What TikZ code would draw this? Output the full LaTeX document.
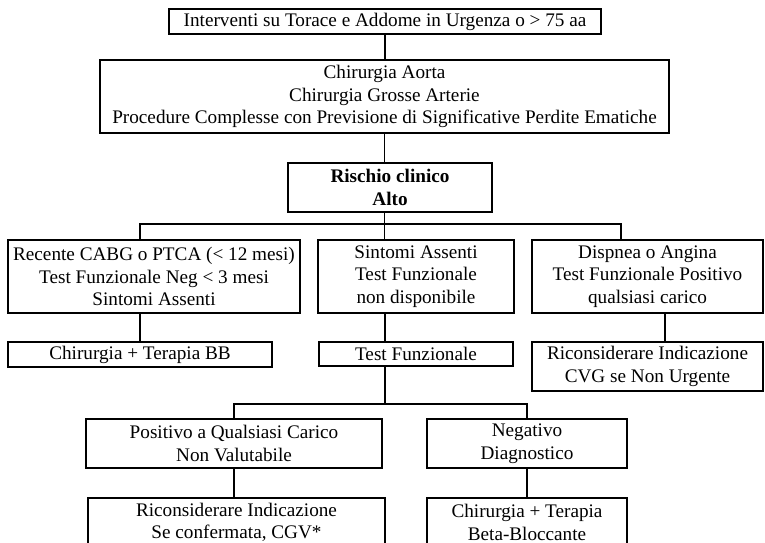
\documentclass[tikz,border=0pt]{standalone}
\usepackage{fontspec}
\setmainfont{Liberation Serif}

\begin{document}
\begin{tikzpicture}[x=0.5pt,y=-0.5pt,line width=0.6pt,
    font=\fontsize{9.6}{11.25}\selectfont,
    cbox/.style n args={2}{draw,align=center,inner sep=0pt,
      minimum width=#1*0.5pt,minimum height=#2*0.5pt}]
    \useasboundingbox (0,0) rectangle (765,542);
    \clip (0,0) rectangle (765,542);

    \node[cbox={432}{25}] (top) at (385,21.5) {Interventi su Torace e Addome in Urgenza o > 75 aa};
    \node[cbox={569}{73}] (chir) at (384.5,96.5) {Chirurgia Aorta\\Chirurgia Grosse Arterie\\Procedure Complesse con Previsione di Significative Perdite Ematiche};
    \node[cbox={204}{49},font=\fontsize{9.6}{11.25}\selectfont\bfseries] (rischio) at (390,187.5) {Rischio clinico\\Alto};

    \node[cbox={292}{73}] (recente) at (154,276.5) {Recente CABG o PTCA (< 12 mesi)\\Test Funzionale Neg < 3 mesi\\Sintomi Assenti};
    \node[cbox={196}{73}] (sintomi) at (416,276.5) {Sintomi Assenti\\Test Funzionale\\non disponibile};
    \node[cbox={231}{73}] (dispnea) at (647.5,276.5) {Dispnea o Angina\\Test Funzionale Positivo\\qualsiasi carico};

    \node[cbox={264}{25}] (terbb) at (140,354.5) {Chirurgia + Terapia BB};
    \node[cbox={194}{24}] (testf) at (416,354) {Test Funzionale};
    \node[cbox={231}{49}] (ricons) at (647.5,366.5) {Riconsiderare Indicazione\\CVG se Non Urgente};

    \node[cbox={296}{49}] (positivo) at (234,443.5) {Positivo a Qualsiasi Carico\\Non Valutabile};
    \node[cbox={200}{49}] (negativo) at (527,443.5) {Negativo\\Diagnostico};
    \node[cbox={297}{49}] (riconsb) at (236.5,522.5) {Riconsiderare Indicazione\\Se confermata, CGV*};
    \node[cbox={200}{49}] (betab) at (527,522.5) {Chirurgia + Terapia\\Beta-Bloccante};

    \coordinate (busl) at (140,224);
    \coordinate (busr) at (621,224);
    \coordinate (busb) at (385,404);
    \coordinate (rdrop) at (665,0);

    \draw (top.south) -- (top.south |- chir.north);
    \draw (chir.south) -- (chir.south |- rischio.north);
    \draw (chir.south |- rischio.south) -- (chir.south |- sintomi.north);
    \draw (busl |- recente.north) -- (busl) -- (busr) -- (busr |- dispnea.north);

    \draw (terbb.north |- recente.south) -- (terbb.north);
    \draw (busb |- sintomi.south) -- (busb |- testf.north);
    \draw (rdrop |- dispnea.south) -- (rdrop |- ricons.north);

    \draw (busb |- testf.south) -- (busb);
    \draw (positivo.north) -- (positivo.north |- busb) -- (negativo.north |- busb) -- (negativo.north);
    \draw (positivo.south) -- (positivo.south |- riconsb.north);
    \draw (negativo.south) -- (betab.north);
  \end{tikzpicture}
\end{document}
